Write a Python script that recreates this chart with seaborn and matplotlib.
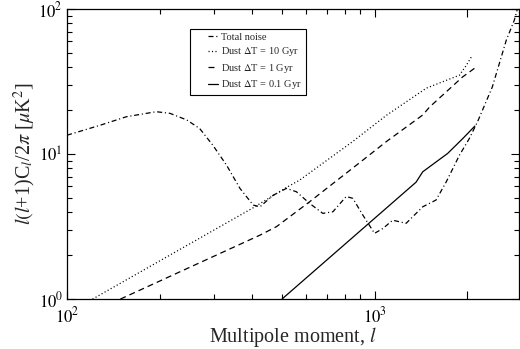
import matplotlib
matplotlib.use("Agg")
import matplotlib.pyplot as plt
import matplotlib.ticker as mticker
from matplotlib.legend_handler import HandlerLine2D
import numpy as np
import pandas as pd
import seaborn as sns

# ---- data ----
noise_l = [100, 128, 156, 195, 216, 245, 270, 298, 330, 365, 403, 424, 468, 517, 557,
           615, 679, 732, 809, 850, 916, 1000, 1065, 1146, 1267, 1435, 1585, 1709,
           1888, 2034, 2163, 2416, 2683, 2850, 2950]
noise_c = [13.5, 15.8, 18.1, 19.6, 19.1, 17.2, 15.0, 11.5, 8.4, 5.8, 4.45, 4.33, 5.2,
           5.8, 5.5, 4.57, 3.9, 4.0, 5.1, 4.95, 3.8, 2.84, 3.07, 3.5, 3.33, 4.33, 4.82,
           6.4, 9.8, 12.8, 16.7, 29.0, 61.0, 84.0, 110.0]

dust10_l = [121, 402, 518, 570, 849, 1093, 1475, 1889, 1990, 2080]
dust10_c = [1.0, 4.25, 5.9, 6.6, 12.2, 18.5, 28.5, 35.0, 41.0, 48.0]

dust1_l = [149, 424, 480, 615, 893, 1093, 1435, 1510, 1933, 2113]
dust1_c = [1.0, 2.76, 3.16, 4.69, 8.7, 12.2, 18.6, 21.1, 34.0, 39.0]

dust01_l = [500, 1365, 1435, 1729, 1937, 2120]
dust01_c = [1.0, 6.4, 7.55, 10.1, 12.8, 15.6]

labels = ["Total noise", r"Dust $\Delta$T = 10 Gyr", r"Dust $\Delta$T = 1 Gyr",
          r"Dust $\Delta$T = 0.1 Gyr"]
x_major = [100, 1000, 2000]
x_major_labels = [r"$10^2$", r"$10^3$", ""]
y_major = [1, 10, 100]
y_major_labels = [r"$10^0$", r"$10^1$", r"$10^2$"]

# ---- style ----
sns.set_style("ticks")
plt.rcParams["font.family"] = ["Liberation Serif", "DejaVu Serif"]
plt.rcParams["mathtext.fontset"] = "stix"
plt.rcParams["lines.scale_dashes"] = False

fig = plt.figure(figsize=(5.2, 3.49), dpi=100)
ax = fig.add_axes([0.129, 0.143, 0.869, 0.831])

series = [
    (noise_l, noise_c, labels[0], (3.6, 2.0, 0.8, 2.0)),
    (dust10_l, dust10_c, labels[1], (0.8, 1.7)),
    (dust1_l, dust1_c, labels[2], (4.3, 2.9)),
    (dust01_l, dust01_c, labels[3], None),
]

handles = []
for xs, ys, lab, dash in series:
    df = pd.DataFrame({"l": xs, "c": ys})
    n_before = len(ax.lines)
    sns.lineplot(data=df, x="l", y="c", ax=ax, color="black", linewidth=0.9,
                 estimator=None, sort=False, legend=False)
    line = ax.lines[n_before]
    if dash is not None:
        line.set_dashes(dash)
    line.set_label(lab)
    handles.append(line)

ax.set_xscale("log")
ax.set_yscale("log")
ax.set_xlim(100, 2950)
ax.set_ylim(1, 100)

ax.xaxis.set_major_locator(mticker.FixedLocator(x_major))
ax.xaxis.set_major_formatter(mticker.FixedFormatter(x_major_labels))
ax.xaxis.set_minor_locator(mticker.FixedLocator([200, 300, 400, 500, 600, 700, 800, 900]))
ax.xaxis.set_minor_formatter(mticker.NullFormatter())
ax.yaxis.set_major_locator(mticker.FixedLocator(y_major))
ax.yaxis.set_major_formatter(mticker.FixedFormatter(y_major_labels))
ax.yaxis.set_minor_locator(mticker.LogLocator(base=10, subs=np.arange(2, 10)))
ax.yaxis.set_minor_formatter(mticker.NullFormatter())

ax.tick_params(which="both", direction="in", top=True, right=True, width=0.8,
               labelsize=12, colors="black")
ax.tick_params(which="major", length=6)
ax.tick_params(which="minor", length=3.5)
ax.tick_params(axis="x", which="major", pad=5)
ax.tick_params(axis="y", which="major", pad=3)
for s in ax.spines.values():
    s.set_visible(True)
    s.set_linewidth(0.9)
    s.set_color("black")

ax.set_xlabel(r"Multipole moment, $\mathit{l}$", fontsize=14.5, labelpad=-1)
ax.set_ylabel(r"$\mathit{l}(\mathit{l}$+1)C$_{\mathit{l}}$/2$\pi$ [$\mu$K$^2$]",
              fontsize=14.5, labelpad=0)


class ShortHandler(HandlerLine2D):
    """Draw the legend sample only over the right part of the handle box."""
    def create_artists(self, legend, orig_handle, xdescent, ydescent, width, height,
                       fontsize, trans):
        arts = super().create_artists(legend, orig_handle, xdescent, ydescent, width,
                                      height, fontsize, trans)
        for a in arts:
            xd = np.asarray(a.get_xdata(), dtype=float)
            if xd.size >= 2:
                x0 = xd[0] + 0.58 * (xd[-1] - xd[0])
                a.set_xdata(np.linspace(x0, xd[-1], xd.size))
        return arts


leg = ax.legend(handles=handles, loc="upper left", bbox_to_anchor=(0.272, 0.931),
                borderaxespad=0, fontsize=7.5, frameon=True, fancybox=False,
                framealpha=1, edgecolor="black", handlelength=2.35, handletextpad=0.3,
                labelspacing=0.33, borderpad=0.35,
                handler_map={h: ShortHandler() for h in handles})
leg.get_frame().set_linewidth(0.8)

fig.savefig("out.png", dpi=100)
